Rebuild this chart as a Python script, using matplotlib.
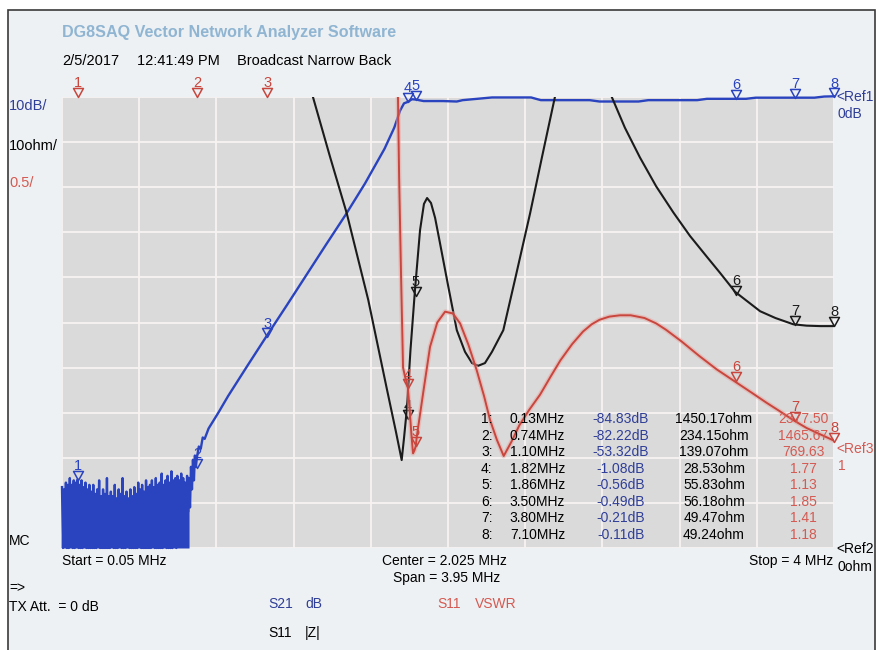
import numpy as np
import matplotlib
matplotlib.use('Agg')
import matplotlib.pyplot as plt
from matplotlib.path import Path
from matplotlib.patches import Rectangle

plt.rcParams['font.family'] = ['Liberation Sans', 'DejaVu Sans']

W, H = 876, 650
f_start, f_stop = 0.05, 4.0

# ---------------- data ----------------
# S21 noise floor (zig-zag: peaks and troughs)
noise_peak_f = np.linspace(0.05, 0.70, 66)
noise_peaks = [-86.5, -87, -85.5, -86, -84.5,
               -86, -85, -85.5, -84.8, -86,
               -85, -86.5, -85.5, -87, -86,
               -87.5, -86, -88, -87, -85,
               -88.5, -87, -88, -84.5, -88.5,
               -87.5, -88.5, -86, -89, -87,
               -88, -84.5, -88.5, -87.5, -89,
               -87, -88.5, -86.5, -88, -85.5,
               -87, -86, -87.5, -85, -86.5,
               -86, -85, -86.5, -84.5, -86,
               -85.5, -83.5, -86, -85, -84,
               -85.5, -83, -85, -84.5, -84,
               -85, -83.5, -84.5, -85.5, -84,
               -84.5]
noise_trough_f = np.linspace(0.055, 0.695, 65)
noise_troughs = [-100, -97, -100, -100, -96,
                 -100, -100, -98, -100, -100,
                 -100, -97, -100, -100, -100,
                 -100, -100, -100, -96, -100,
                 -100, -100, -100, -100, -100,
                 -97, -100, -100, -100, -96,
                 -100, -100, -100, -98, -100,
                 -100, -100, -100, -100, -97,
                 -100, -100, -100, -100, -100,
                 -100, -96, -100, -100, -100,
                 -100, -100, -97, -100, -100,
                 -100, -100, -96, -100, -95,
                 -94, -96, -93, -95, -92]

s21_f = [0.705, 0.71, 0.715, 0.72, 0.725, 0.73, 0.735, 0.74,
         0.75, 0.76, 0.77, 0.78, 0.80, 0.85, 0.90,
         1.00, 1.10, 1.20, 1.30, 1.40, 1.50, 1.60, 1.70,
         1.75, 1.78, 1.80, 1.82, 1.84, 1.86,
         1.90, 2.00, 2.07, 2.10, 2.20, 2.25,
         2.45, 2.50, 2.75, 2.80, 3.00, 3.05, 3.30, 3.35,
         3.55, 3.60, 3.90, 3.95, 4.00]
s21_db = [-91, -82, -87, -80.5, -85, -79.5, -82, -80,
          -77.5, -78, -75.5, -75.8, -73.5, -70, -66.3,
          -59.5, -52.8, -46.2, -39.5, -32.8, -26.2, -19.2, -11.5,
          -6.8, -3.0, -1.4, -1.08, -0.5, -0.56,
          -0.9, -0.9, -1.0, -0.7, -0.3, -0.1,
          -0.1, -0.7, -0.7, -1.0, -1.0, -0.7, -0.7, -0.4,
          -0.4, -0.15, -0.15, 0.1, 0.15]

# S11 |Z| (ohm)
z_f = [0.05, 0.13, 0.74, 1.10, 1.334, 1.421, 1.507, 1.617, 1.711, 1.759,
       1.788, 1.80, 1.814, 1.833, 1.856, 1.882, 1.902, 1.918, 1.938, 1.959,
       1.984, 2.025, 2.07, 2.112, 2.148, 2.179, 2.214, 2.25, 2.308, 2.373,
       2.445, 2.506, 2.572, 2.65, 2.75, 2.863, 2.93, 3.007, 3.09, 3.178,
       3.263, 3.349, 3.417, 3.494, 3.622, 3.70, 3.792, 3.86, 3.93, 4.0]
z_ohm = [1600, 1450.17, 234.15, 139.07, 100, 86.8, 74.2, 55.0, 35.5, 25.7,
         19.5, 24.4, 30.6, 43.9, 57.2, 70.5, 76.3, 77.6, 76.5, 73.2,
         67.6, 58.3, 48.3, 43.5, 41.0, 40.4, 41.0, 43.5, 48.3, 60.5,
         74.2, 86.7, 100, 115, 115, 100, 93.2, 86.6, 80.2, 74.4,
         69.2, 64.6, 61.0, 56.8, 52.5, 51.0, 49.6, 49.3, 49.2, 49.2]

# S11 VSWR
vswr_f = [0.05, 0.13, 0.74, 1.10, 1.60, 1.74, 1.765, 1.769, 1.775, 1.785,
          1.795, 1.805, 1.812, 1.82, 1.83, 1.838, 1.846, 1.853, 1.86, 1.865,
          1.90, 1.933, 1.97, 2.01, 2.05, 2.087, 2.13, 2.172, 2.21, 2.24,
          2.275, 2.31, 2.35, 2.39, 2.44, 2.496, 2.55, 2.60, 2.66, 2.716,
          2.76, 2.80, 2.85, 2.905, 2.96, 3.03, 3.09, 3.14, 3.22, 3.31,
          3.40, 3.49, 3.58, 3.655, 3.72, 3.79, 3.86, 3.93, 4.0]
vswr = [2500, 2377.5, 1465.67, 769.63, 60, 12, 6, 5.0, 4.1, 3.0,
        2.0, 1.9, 1.85, 1.77, 1.5, 1.25, 1.05, 1.08, 1.13, 1.23,
        1.75, 2.23, 2.5, 2.62, 2.6, 2.49, 2.25, 1.97, 1.68, 1.42,
        1.2, 1.02, 1.18, 1.36, 1.53, 1.70, 1.9, 2.08, 2.26, 2.40,
        2.48, 2.53, 2.565, 2.58, 2.58, 2.55, 2.49, 2.42, 2.29, 2.13,
        1.98, 1.85, 1.72, 1.61, 1.52, 1.42, 1.33, 1.26, 1.19]

marker_labels = ['1', '2', '3', '4', '5', '6', '7', '8']
marker_freq = [0.13, 0.74, 1.10, 1.82, 1.86, 3.50, 3.80, 7.10]
marker_db = [-84.83, -82.22, -53.32, -1.08, -0.56, -0.49, -0.21, -0.11]
marker_ohm = [1450.17, 234.15, 139.07, 28.53, 55.83, 56.18, 49.47, 49.24]
marker_vswr = [2377.50, 1465.67, 769.63, 1.77, 1.13, 1.85, 1.41, 1.18]

# ---------------- style ----------------
BLUE = '#2a43bf'
BLUE_TXT = '#2f3e98'
BLACK = '#1b1b1b'
RED = '#c8463d'
RED_TXT = '#d45a52'
TITLE = '#8fb5d3'


def fx(x):
    return x / W


def fy(y):
    return 1 - y / H


fig = plt.figure(figsize=(8.76, 6.5), dpi=100, facecolor='white')
fig.patches.append(Rectangle((fx(7.5), fy(652)), fx(875) - fx(7.5), fy(10) - fy(652),
                             transform=fig.transFigure, facecolor='#eef1f3',
                             edgecolor='#3a3a3a', lw=1.2, zorder=-5))

ax = fig.add_axes([fx(62), fy(548), fx(834) - fx(62), fy(97) - fy(548)])
ax.set_zorder(1)
ax.set_facecolor('#dadada')
ax.set_xlim(f_start, f_stop)
ax.set_ylim(-100, 0)
ax.set_xticks(np.linspace(f_start, f_stop, 11))
ax.set_yticks(np.linspace(-100, 0, 11))
ax.tick_params(length=0, labelbottom=False, labelleft=False)
ax.grid(True, color='#f7f3f3', lw=1.3)
ax.set_axisbelow(True)
for s in ax.spines.values():
    s.set_visible(False)

ax_z = ax.twinx()
ax_z.set_zorder(2)
ax_z.set_ylim(0, 100)
ax_z.axis('off')
ax_v = ax.twinx()
ax_v.set_zorder(3)
ax_v.set_ylim(0, 5)
ax_v.axis('off')

# S21 trace
nf = np.empty(len(noise_peak_f) + len(noise_trough_f))
nv = np.empty_like(nf)
nf[0::2] = noise_peak_f
nf[1::2] = noise_trough_f
nv[0::2] = noise_peaks
nv[1::2] = noise_troughs
ax.fill_between(nf, nv, -100, color=BLUE, lw=0, zorder=3)
blue_f = np.concatenate([nf, s21_f])
blue_v = np.concatenate([nv, s21_db])
ax.plot(blue_f, blue_v, color=BLUE, lw=1.7, clip_on=False, zorder=3)

# |Z| trace
ax_z.plot(z_f, z_ohm, color=BLACK, lw=1.5, zorder=3)

# VSWR trace with halo
ax_v.plot(vswr_f, vswr, color='#e8a29c', lw=3.4, alpha=0.5, zorder=2)
ax_v.plot(vswr_f, vswr, color=RED, lw=1.4, zorder=3)

tri = Path([(-0.55, 1.0), (0.55, 1.0), (0.0, 0.0), (-0.55, 1.0)],
           [Path.MOVETO, Path.LINETO, Path.LINETO, Path.CLOSEPOLY])


def draw_marker(axis, f, val, lo, hi, label, color):
    f = min(f, f_stop)
    val = min(max(val, lo), hi)
    axis.plot([f], [val], marker=tri, ms=13, mfc='none', mec=color, mew=1.1,
              ls='none', clip_on=False, zorder=6)
    axis.annotate(label, (f, val), xytext=(0, 7.0), textcoords='offset points',
                  ha='center', va='baseline', fontsize=10.5, color=color,
                  annotation_clip=False, zorder=6)


for i, lab in enumerate(marker_labels):
    draw_marker(ax, marker_freq[i], marker_db[i], -100, 0, lab, BLUE)
    if marker_ohm[i] <= 100:
        draw_marker(ax_z, marker_freq[i], marker_ohm[i], 0, 100, lab, BLACK)
    draw_marker(ax_v, marker_freq[i], marker_vswr[i], 0, 5, lab, RED)


def t(x, y, s, color='black', size=10, ha='left', weight='normal'):
    fig.text(fx(x), fy(y), s, color=color, fontsize=size, ha=ha, va='baseline',
             fontweight=weight, zorder=10)


t(62, 37.5, 'DG8SAQ Vector Network Analyzer Software', TITLE, 11.6, weight='bold')
t(62, 65, '2/5/2017', size=10.5)
t(137, 65, '12:41:49 PM', size=10.5)
t(237, 65, 'Broadcast Narrow Back', size=10.5)

t(9, 110, '10dB/', BLUE_TXT, 10.5)
t(9, 150, '10ohm/', 'black', 10.5)
t(9, 187, '0.5/', RED_TXT, 10.5)
t(9, 545, 'MC')

t(62, 565, 'Start = 0.05 MHz')
t(444, 565, 'Center = 2.025 MHz', ha='center')
t(447, 582, 'Span = 3.95 MHz', ha='center')
t(833, 565, 'Stop = 4 MHz', ha='right')

t(9, 592, '=>')
t(9, 611, 'TX Att.  = 0 dB')
t(268, 608, 'S21', BLUE_TXT)
t(305, 608, 'dB', BLUE_TXT)
t(437, 608, 'S11', RED_TXT)
t(475, 608, 'VSWR', RED_TXT)
t(268, 637, 'S11')
t(305, 637, '|Z|')

t(836, 101, '<Ref1', BLUE_TXT)
t(838, 118, '0dB', BLUE_TXT)
t(836, 453, '<Ref3', RED_TXT)
t(838, 470, '1', RED_TXT)
t(836, 553, '<Ref2')
t(838, 571, '0ohm')

# marker table
y0, dy = 423, 16.57
for i, lab in enumerate(marker_labels):
    y = y0 + i * dy
    t(481, y, lab + ':')
    t(537.5, y, f'{marker_freq[i]:.2f}MHz', ha='center')
    t(621, y, f'{marker_db[i]:.2f}dB', BLUE_TXT, ha='center')
    t(714, y, f'{marker_ohm[i]:.2f}ohm', ha='center')
    t(803, y, f'{marker_vswr[i]:.2f}', RED_TXT, ha='center')

fig.savefig('out.png', dpi=100, facecolor=fig.get_facecolor())
